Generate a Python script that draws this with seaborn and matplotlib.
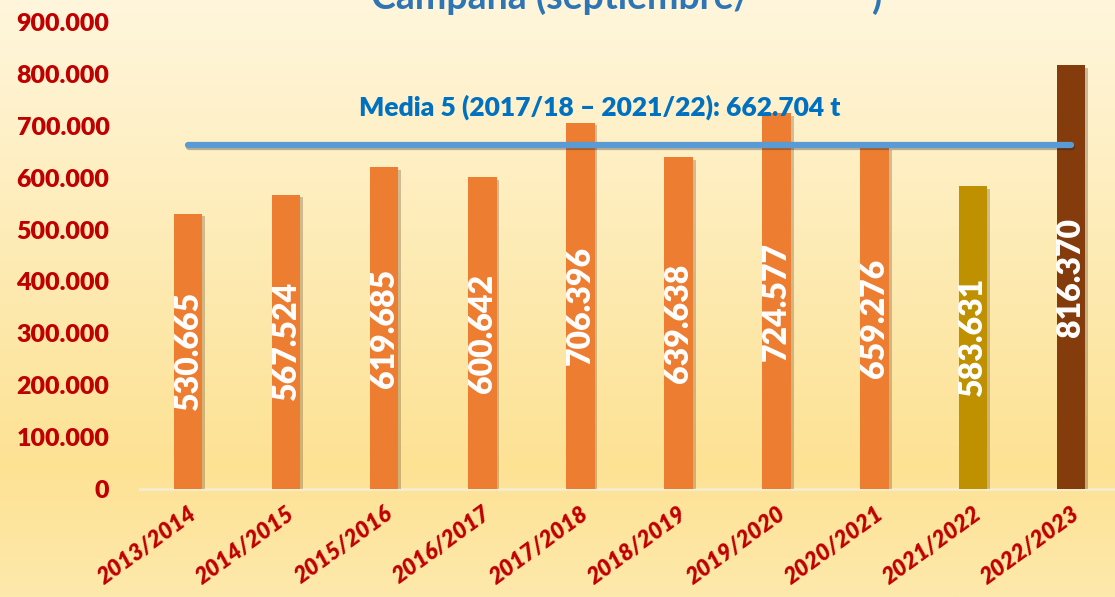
import numpy as np
import pandas as pd
import matplotlib
matplotlib.use('Agg')
import matplotlib.pyplot as plt
import matplotlib.patheffects as pe
from matplotlib.colors import LinearSegmentedColormap
from matplotlib.ticker import FuncFormatter
import seaborn as sns

# data (toneladas por campaña)
campaigns = ['2013/2014', '2014/2015', '2015/2016', '2016/2017', '2017/2018',
             '2018/2019', '2019/2020', '2020/2021', '2021/2022', '2022/2023']
tonnes = [530665, 567524, 619685, 600642, 706396, 639638, 724577, 659276, 583631, 816370]
bar_colors = ['#ED7D31'] * 8 + ['#BF9000', '#843C0C']
media5 = 662704
media_label = 'Media 5 (2017/18 – 2021/22): 662.704 t'

df = pd.DataFrame({'campaign': campaigns, 'tonnes': tonnes})

sns.set_theme(style='white')
plt.rcParams['font.family'] = ['Lato', 'DejaVu Sans']

fig = plt.figure(figsize=(11.15, 5.97), dpi=100)

# background gradient (cream at top, warmer yellow lower down)
bg = fig.add_axes([0, 0, 1, 1], zorder=0)
cmap = LinearSegmentedColormap.from_list(
    'bg', [(0.0, '#FFF6DC'), (0.78, '#FDE294'), (1.0, '#FEE9AC')])
grad = np.linspace(0, 1, 256).reshape(-1, 1)
bg.imshow(grad, aspect='auto', cmap=cmap, extent=[0, 1, 0, 1], origin='upper')
bg.set_axis_off()

ax = fig.add_axes([0.1256, 0.181, 0.8744, 0.782], zorder=1)
ax.patch.set_alpha(0)

sns.barplot(data=df, x='campaign', y='tonnes', hue='campaign', palette=bar_colors,
            width=0.29, legend=False, ax=ax, saturation=1, zorder=3, linewidth=0)

for bar in ax.patches:
    bar.set_path_effects([pe.SimplePatchShadow(offset=(2, -2), alpha=0.25), pe.Normal()])

# value labels inside bars
for i, v in enumerate(tonnes):
    ax.text(i, v / 2, f'{v:,}'.replace(',', '.'), rotation=90, ha='center', va='center',
            color='white', fontsize=23, fontweight='heavy', zorder=5)

# five-year mean line
ax.plot([0, len(campaigns) - 1], [media5, media5], color='#5B9BD5', lw=4.5,
        solid_capstyle='round', zorder=4,
        path_effects=[pe.SimpleLineShadow(offset=(1, -1.5), alpha=0.3), pe.Normal()])
ax.text(4.2, 735000, media_label, ha='center', va='center', color='#0070C0',
        fontsize=19, fontweight='heavy', zorder=5)

ax.set_ylim(0, 900000)
ax.set_xlim(-0.49, 9.45)
ax.set_yticks(range(0, 900001, 100000))
ax.yaxis.set_major_formatter(FuncFormatter(lambda y, p: f'{int(y):,}'.replace(',', '.')))
ax.tick_params(axis='y', labelsize=18, labelcolor='#C00000', pad=22, length=0)
for t in ax.get_yticklabels():
    t.set_fontweight('heavy')
ax.tick_params(axis='x', length=0, pad=10)
ax.set_xticks(range(len(campaigns)))
ax.set_xticklabels(campaigns, rotation=36, ha='right', rotation_mode='anchor',
                   color='#C00000', fontsize=16.5, fontweight='heavy', fontstyle='italic')
ax.set_xlabel('')
ax.set_ylabel('')
for s in ['top', 'right', 'left']:
    ax.spines[s].set_visible(False)
ax.spines['bottom'].set_color('#F6ECCF')
ax.spines['bottom'].set_linewidth(2)

# title, mostly cut off at the top edge in the original
fig.text(0.333, 1 - 9 / 597, 'Campaña (septiembre/', ha='left', va='baseline',
         color='#2E75B6', fontsize=27, fontweight='bold', zorder=6)
fig.text(0.782, 1 - 9 / 597, ')', ha='left', va='baseline',
         color='#2E75B6', fontsize=27, fontweight='bold', zorder=6)

fig.savefig('out.png', dpi=100)
